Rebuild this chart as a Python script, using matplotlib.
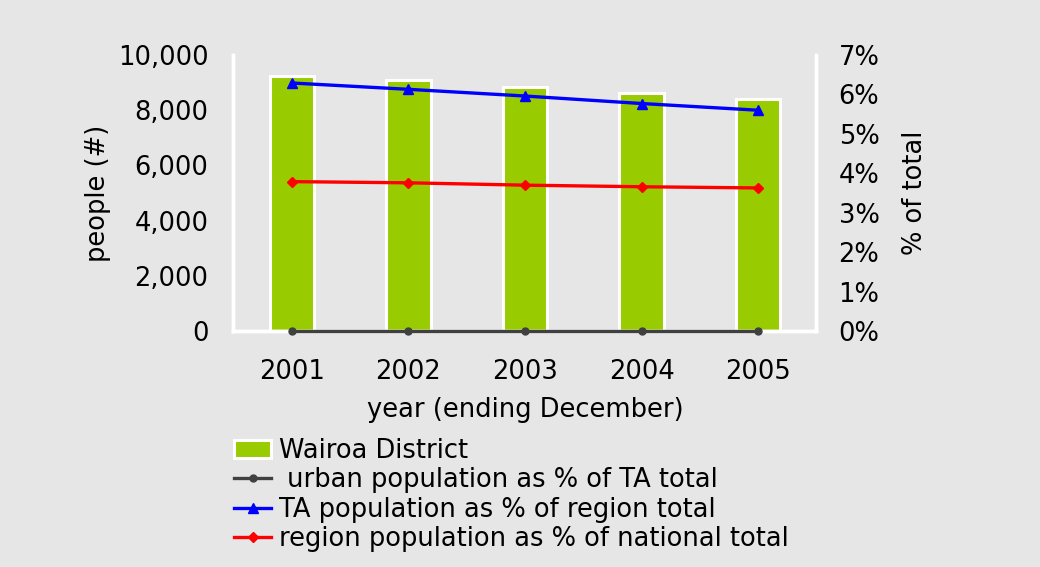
import matplotlib.pyplot as plt
import numpy as np
from matplotlib.ticker import FuncFormatter

years = ["2001", "2002", "2003", "2004", "2005"]
people = [9250, 9080, 8850, 8620, 8390]
urban_pct = [0.0, 0.0, 0.0, 0.0, 0.0]
ta_pct = [6.29, 6.13, 5.96, 5.77, 5.60]
region_pct = [3.79, 3.76, 3.70, 3.66, 3.63]

bg = "#e6e6e6"
plt.rcParams["font.family"] = "DejaVu Sans"
plt.rcParams["font.size"] = 18.5

fig = plt.figure(figsize=(10.4, 5.67), dpi=100, facecolor=bg)
ax = fig.add_axes([0.2245, 0.416, 0.5605, 0.487])
ax.set_facecolor(bg)
x = np.arange(len(years))

bars = ax.bar(x, people, width=0.38, color="#99cc00", edgecolor="white",
              linewidth=2.2, label="Wairoa District", zorder=2)
ax.set_xlim(-0.5, 4.5)
ax.set_ylim(0, 10000)
ax.set_yticks(np.arange(0, 10001, 2000))
ax.yaxis.set_major_formatter(FuncFormatter(lambda v, p: f"{int(v):,}"))
ax.set_xticks(x)
ax.set_xticklabels(years)
ax.tick_params(axis="x", length=0, pad=20)
ax.tick_params(axis="y", length=0, pad=18)
ax.set_ylabel("people (#)", labelpad=5)
ax.set_xlabel("year (ending December)", labelpad=9)
ax.spines["top"].set_visible(False)
for s in ["left", "bottom", "right"]:
    ax.spines[s].set_color("white")
    ax.spines[s].set_linewidth(2.5)

ax2 = ax.twinx()
ax2.set_ylim(0, 7)
ax2.set_yticks(range(0, 8))
ax2.yaxis.set_major_formatter(FuncFormatter(lambda v, p: f"{int(v)}%"))
ax2.tick_params(length=0, pad=16)
ax2.set_ylabel("% of total", labelpad=16)
ax2.spines["top"].set_visible(False)
for s in ["left", "bottom", "right"]:
    ax2.spines[s].set_color("white")
    ax2.spines[s].set_linewidth(2.5)

l1, = ax2.plot(x, urban_pct, color="#404040", lw=2.4, marker="o", ms=5,
               label=" urban population as % of TA total", clip_on=False, zorder=3)
l2, = ax2.plot(x, ta_pct, color="blue", lw=2.4, marker="^", ms=7,
               label="TA population as % of region total", zorder=3)
l3, = ax2.plot(x, region_pct, color="red", lw=2.4, marker="D", ms=5,
               label="region population as % of national total", zorder=3)

fig.legend(handles=[bars, l1, l2, l3], loc="upper left",
           bbox_to_anchor=(0.215, 0.245), frameon=False, handlelength=1.45,
           handletextpad=0.3, labelspacing=0.12, borderaxespad=0)

plt.savefig("out.png", facecolor=bg)
